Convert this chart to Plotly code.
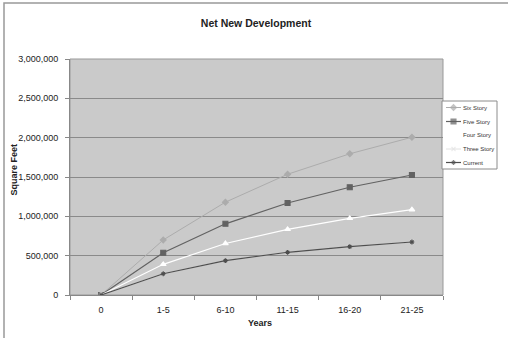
import plotly.graph_objects as go

periods = ["0", "1-5", "6-10", "11-15", "16-20", "21-25"]
six_story = [0, 700000, 1180000, 1535000, 1795000, 2005000]
five_story = [0, 537000, 905000, 1170000, 1370000, 1525000]
four_story = [0, 390000, 655000, 835000, 975000, 1085000]
three_story = [0, 270000, 436000, 543000, 614000, 674000]
current = [0, 270000, 436000, 543000, 614000, 674000]
y_ticks = [0, 500000, 1000000, 1500000, 2000000, 2500000, 3000000]

W, H = 508, 338
L, R, T, B = 70, 5, 59, 43
PW, PH = W - L - R, H - T - B
PLOT_RIGHT = 443  # right edge of the plotting area in px


def px_x(p):
    return (p - L) / PW


def px_y(p):
    return (H - B - p) / PH


font = "Liberation Sans, Arial, sans-serif"
TXT = "#222222"

series = [
    ("Six Story", six_story, "#acacac", "diamond", 4.5, 1),
    ("Five Story", five_story, "#626262", "square", 5, 1.2),
    ("Four Story", four_story, "#ffffff", "triangle-up", 5, 1.2),
    ("Three Story", three_story, "#e2e2e2", "x-thin-open", 4, 1),
    ("Current", current, "#4e4e4e", "asterisk-open", 4, 1.2),
]

fig = go.Figure()
for name, vals, color, sym, size, lw in series:
    fig.add_trace(go.Scatter(
        x=periods, y=vals, name=name, mode="lines+markers",
        line=dict(color=color, width=lw),
        marker=dict(symbol=sym, size=size, color=color,
                    line=dict(color=color, width=1.1)),
        showlegend=False, xaxis="x", yaxis="y",
    ))

# Legend panel drawn on its own small axes (pixel-like units)
LEG_X0, LEG_X1, LEG_Y0, LEG_Y1 = 442, 497, 101, 169
row_y = [107.5, 121.5, 135, 149, 162.5]
annotations = []
for (name, vals, color, sym, size, lw), ry in zip(series, row_y):
    fig.add_trace(go.Scatter(
        x=[446, 453.5, 461], y=[ry, ry, ry], mode="lines+markers",
        line=dict(color=color, width=lw),
        marker=dict(symbol=sym, size=[0, size, 0], color=color,
                    line=dict(color=color, width=1.1)),
        showlegend=False, hoverinfo="skip", xaxis="x2", yaxis="y2",
    ))
    annotations.append(dict(
        x=461.5, y=ry, xref="x2", yref="y2", text=name, showarrow=False,
        xanchor="left", yanchor="middle", borderpad=0,
        font=dict(size=6, color="#333333", family=font),
    ))

# Axis titles
annotations.append(dict(
    x=px_x(13.5), y=px_y(170), xref="paper", yref="paper",
    text="<b>Square Feet</b>", textangle=-90, showarrow=False,
    xanchor="center", yanchor="middle", borderpad=0,
    font=dict(size=9, color=TXT, family=font),
))
annotations.append(dict(
    x=px_x(260), y=px_y(323), xref="paper", yref="paper",
    text="<b>Years</b>", showarrow=False,
    xanchor="center", yanchor="middle",
    font=dict(size=9, color=TXT, family=font),
))

fig.update_layout(
    template="none",
    width=W, height=H,
    margin=dict(l=L, r=R, t=T, b=B),
    paper_bgcolor="white",
    plot_bgcolor="rgba(0,0,0,0)",
    font=dict(family=font, size=9, color=TXT),
    title=dict(text="<b>Net New Development</b>", x=px_x(256), xref="paper",
               xanchor="center", y=1 - 23 / H, yanchor="middle",
               font=dict(size=10.5, color=TXT)),
    showlegend=False,
    xaxis=dict(
        domain=[0, px_x(PLOT_RIGHT)],
        type="category", range=[-0.5, 5.5], showgrid=False,
        ticks="outside", ticklen=4, tickcolor="#888888",
        tickson="boundaries", showline=True, linecolor="#888888",
        linewidth=1, zeroline=False, ticklabelstandoff=6,
        tickfont=dict(size=9, color=TXT),
    ),
    yaxis=dict(
        domain=[0, 1],
        range=[0, 3000000], tickvals=y_ticks,
        tickformat=",d", showgrid=True, gridcolor="#8a8a8a", gridwidth=1,
        ticks="outside", ticklen=4, tickcolor="#888888",
        showline=True, linecolor="#888888", linewidth=1,
        zeroline=False, ticklabelstandoff=5,
        tickfont=dict(size=9, color=TXT),
    ),
    xaxis2=dict(domain=[px_x(LEG_X0), px_x(LEG_X1)], range=[LEG_X0, LEG_X1],
                visible=False, anchor="y2"),
    yaxis2=dict(domain=[px_y(LEG_Y1), px_y(LEG_Y0)], range=[LEG_Y1, LEG_Y0],
                visible=False, anchor="x2"),
    annotations=annotations,
    shapes=[
        # plotting area background and frame
        dict(type="rect", xref="paper", yref="paper",
             x0=0, x1=px_x(PLOT_RIGHT), y0=0, y1=1,
             fillcolor="#cacaca", line=dict(color="#999999", width=1),
             layer="below"),
        # legend box
        dict(type="rect", xref="paper", yref="paper",
             x0=px_x(LEG_X0), x1=px_x(LEG_X1),
             y0=px_y(LEG_Y1), y1=px_y(LEG_Y0),
             fillcolor="white", line=dict(color="#8c8c8c", width=1),
             layer="below"),
        # outer chart frame
        dict(type="path", xref="paper", yref="paper",
             path=f"M {px_x(4)},{px_y(H + 5)} L {px_x(4)},{px_y(3)} L {px_x(W + 5)},{px_y(3)}",
             line=dict(color="#999999", width=1.5)),
    ],
)

fig.write_html("out.html")
